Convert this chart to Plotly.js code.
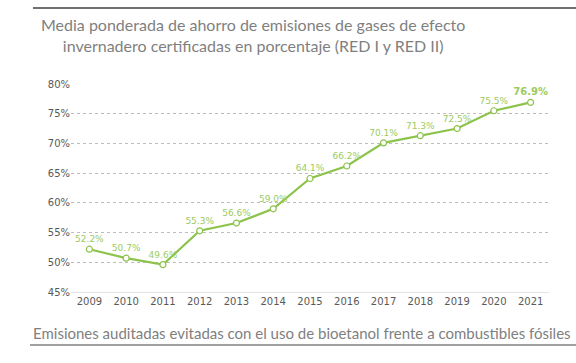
<!DOCTYPE html>
<html><head><meta charset="utf-8">
<script src="https://cdn.plot.ly/plotly-3.0.1.min.js"></script>
<style>
html,body{margin:0;padding:0;background:#fff;}
#chart{width:576px;height:363px;}
</style>
</head><body><div id="chart"></div>
<script>
const years = ['2009','2010','2011','2012','2013','2014','2015','2016','2017','2018','2019','2020','2021'];
const savings = [52.2, 50.7, 49.6, 55.3, 56.6, 59.0, 64.1, 66.2, 70.1, 71.3, 72.5, 75.5, 76.9];
const titleText = 'Media ponderada de ahorro de emisiones de gases de efecto<br>invernadero certificadas en porcentaje (RED I y RED II)';
const captionText = 'Emisiones auditadas evitadas con el uso de bioetanol frente a combustibles fósiles';

const labels = savings.map((v, i) => {
  const s = v.toFixed(1) + '%';
  return i === savings.length - 1 ? '<b>' + s + '</b>' : s;
});
const labelSizes = savings.map((v, i) => i === savings.length - 1 ? 10 : 9);

const trace = {
  x: years, y: savings, type: 'scatter', mode: 'lines+markers+text',
  line: {color: '#8CC34A', width: 2.2},
  marker: {symbol: 'circle', size: 6, color: '#ffffff', line: {color: '#8CC34A', width: 1.2}},
  text: labels, textposition: 'top center',
  textfont: {family: 'DejaVu Sans', size: labelSizes, color: '#9CCB62'},
  cliponaxis: false, hoverinfo: 'skip'
};

const W = 576, H = 363, ML = 71, MR = 27, MT = 84, MB = 71;
const pw = W - ML - MR, ph = H - MT - MB;
const px = x => (x - ML) / pw;
const py = y => (H - MB - y) / ph;

const layout = {
  width: W, height: H,
  margin: {l: ML, r: MR, t: MT, b: MB},
  paper_bgcolor: '#ffffff', plot_bgcolor: '#ffffff',
  showlegend: false,
  xaxis: {type: 'category', range: [-0.5, 12.5], showgrid: false, zeroline: false,
    showline: true, linecolor: '#e3e3e3', linewidth: 1, ticks: '',
    tickfont: {family: 'DejaVu Sans', size: 10, color: '#595959'}},
  yaxis: {range: [45, 80], dtick: 5, ticksuffix: '%', showgrid: true,
    gridcolor: '#bdbdbd', griddash: 'dot', gridwidth: 1, zeroline: false, showline: false,
    ticks: '',
    tickfont: {family: 'DejaVu Sans', size: 10, color: '#595959'}},
  annotations: [
    {text: titleText, xref: 'paper', yref: 'paper', x: px(253), y: py(35),
     xanchor: 'center', yanchor: 'middle', align: 'center', showarrow: false,
     font: {family: 'Lato', size: 16, color: '#7f7f7f'}},
    {text: captionText, xref: 'paper', yref: 'paper', x: px(302), y: py(333),
     xanchor: 'center', yanchor: 'middle', showarrow: false,
     font: {family: 'Lato', size: 15, color: '#7f7f7f'}}
  ],
  shapes: [
    {type: 'line', xref: 'paper', yref: 'paper', layer: 'above',
     x0: px(33), x1: px(576), y0: py(8), y1: py(8), line: {color: '#707070', width: 2}},
    {type: 'line', xref: 'paper', yref: 'paper', layer: 'above',
     x0: px(30), x1: px(576), y0: py(345), y1: py(345), line: {color: '#808080', width: 1.5}}
  ]
};

Plotly.newPlot('chart', [trace], layout, {displayModeBar: false, staticPlot: true});
</script></body></html>
